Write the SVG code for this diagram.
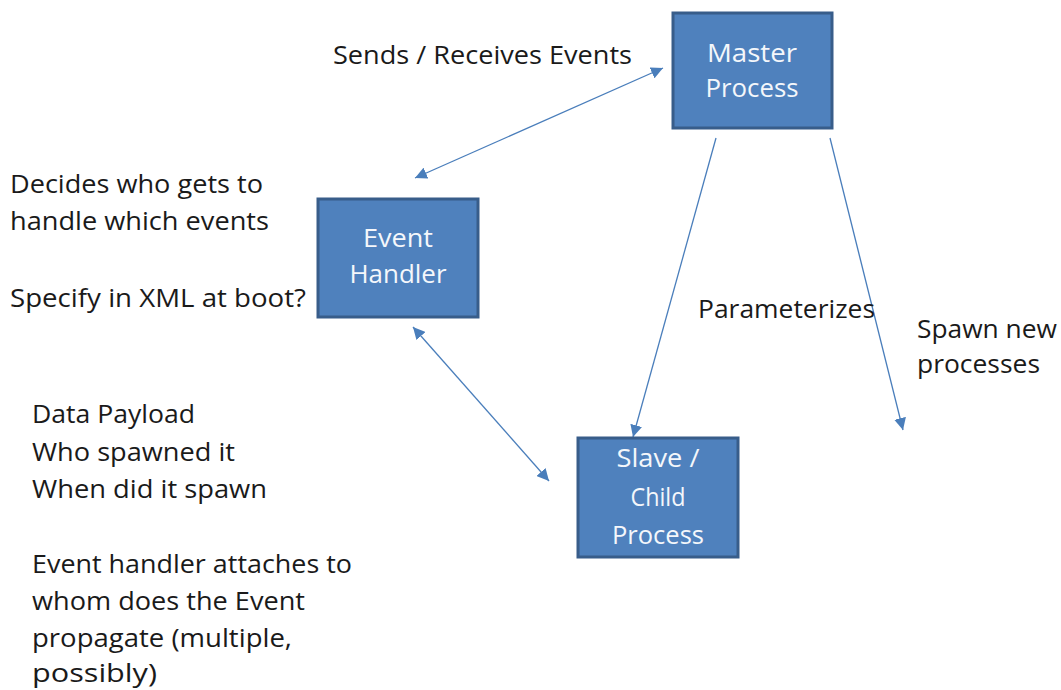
<svg xmlns="http://www.w3.org/2000/svg" width="1061" height="690" viewBox="0 0 1061 690">
<style>
.box{fill:#4f81bd;stroke:#385d8a;stroke-width:3}
.bt{font-family:"Open Sans","Liberation Sans",sans-serif;font-size:26px;fill:#f4f7fb;text-anchor:middle}
.t{font-family:"Open Sans","Liberation Sans",sans-serif;font-size:25.5px;fill:#1a1a1a}
.c{stroke:#4a7ebb;stroke-width:1.3;fill:none}
</style>
<defs>
<marker id="ah" viewBox="0 0 10 10" refX="10" refY="5" markerWidth="12" markerHeight="12" markerUnits="userSpaceOnUse" orient="auto-start-reverse">
<path d="M0,0 L10,5 L0,10 z" fill="#4a7ebb"/>
</marker>
</defs>
<rect width="1061" height="690" fill="#ffffff"/>
<g id="connectors">
<line class="c" x1="415" y1="178" x2="663" y2="68" marker-start="url(#ah)" marker-end="url(#ah)"/>
<line class="c" x1="413" y1="327" x2="549" y2="481" marker-start="url(#ah)" marker-end="url(#ah)"/>
<line class="c" x1="716" y1="138" x2="633" y2="437" marker-end="url(#ah)"/>
<line class="c" x1="830" y1="138" x2="903" y2="430" marker-end="url(#ah)"/>
</g>
<g id="master">
<rect class="box" x="673" y="13" width="159" height="115"/>
<text class="bt" x="752" y="62" textLength="90" lengthAdjust="spacingAndGlyphs">Master</text>
<text class="bt" x="752" y="97" textLength="93" lengthAdjust="spacingAndGlyphs">Process</text>
</g>
<g id="event-handler">
<rect class="box" x="318" y="199" width="160" height="118"/>
<text class="bt" x="398" y="247" textLength="70" lengthAdjust="spacingAndGlyphs">Event</text>
<text class="bt" x="398" y="283" textLength="97" lengthAdjust="spacingAndGlyphs">Handler</text>
</g>
<g id="slave">
<rect class="box" x="578" y="438" width="160" height="119"/>
<text class="bt" x="658" y="467" textLength="83" lengthAdjust="spacingAndGlyphs">Slave /</text>
<text class="bt" x="658" y="506" textLength="55" lengthAdjust="spacingAndGlyphs">Child</text>
<text class="bt" x="658" y="544" textLength="92" lengthAdjust="spacingAndGlyphs">Process</text>
</g>
<g id="labels">
<text class="t" x="333" y="64" textLength="299" lengthAdjust="spacingAndGlyphs">Sends / Receives Events</text>
<text class="t" x="10" y="193" textLength="253" lengthAdjust="spacingAndGlyphs">Decides who gets to</text>
<text class="t" x="10" y="230" textLength="259" lengthAdjust="spacingAndGlyphs">handle which events</text>
<text class="t" x="10" y="307" textLength="296" lengthAdjust="spacingAndGlyphs">Specify in XML at boot?</text>
<text class="t" x="698" y="318" textLength="177" lengthAdjust="spacingAndGlyphs">Parameterizes</text>
<text class="t" x="917" y="338" textLength="140" lengthAdjust="spacingAndGlyphs">Spawn new</text>
<text class="t" x="917" y="373" textLength="123" lengthAdjust="spacingAndGlyphs">processes</text>
<text class="t" x="32" y="423" textLength="163" lengthAdjust="spacingAndGlyphs">Data Payload</text>
<text class="t" x="32" y="461" textLength="203" lengthAdjust="spacingAndGlyphs">Who spawned it</text>
<text class="t" x="32" y="498" textLength="235" lengthAdjust="spacingAndGlyphs">When did it spawn</text>
<text class="t" x="32" y="573" textLength="320" lengthAdjust="spacingAndGlyphs">Event handler attaches to</text>
<text class="t" x="32" y="610" textLength="273" lengthAdjust="spacingAndGlyphs">whom does the Event</text>
<text class="t" x="32" y="647" textLength="260" lengthAdjust="spacingAndGlyphs">propagate (multiple,</text>
<text class="t" x="32" y="682" textLength="125" lengthAdjust="spacingAndGlyphs">possibly)</text>
</g>
</svg>
